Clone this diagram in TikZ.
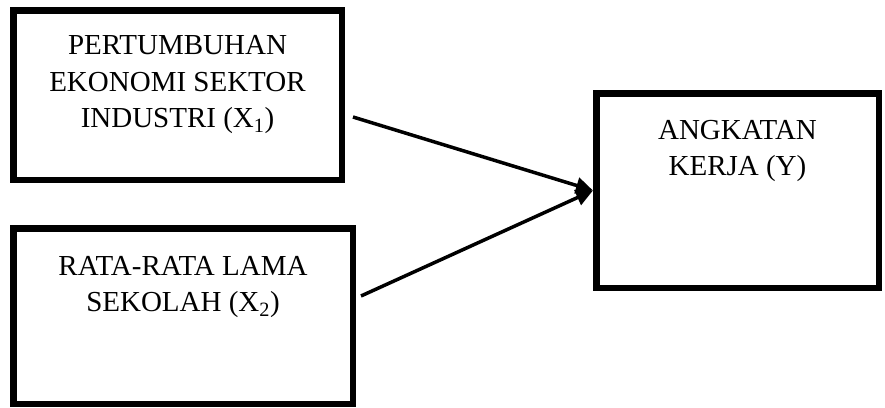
\documentclass[tikz,border=0pt]{standalone}
\usepackage{fontspec}
\setmainfont{Liberation Serif}
\usetikzlibrary{arrows.meta,calc}

\tikzset{
  box/.style={draw=black, line width=6.5pt, rectangle, inner sep=0pt, fill=white},
  lbl/.style={align=center, inner sep=0pt, anchor=north,
              font=\fontsize{29}{36.5}\selectfont},
  link/.style={line width=3.5pt, -{Triangle[length=17pt,width=16pt]}}
}

\begin{document}
\begin{tikzpicture}[x=1pt, y=-1pt]
  \useasboundingbox (0,0) rectangle (885,407);

  % boxes
  \node[box, minimum width=328.5pt, minimum height=169.5pt] (b1) at (177.5,95) {};
  \node[box, minimum width=339.5pt, minimum height=175.5pt] (b2) at (183,316) {};
  \node[box, minimum width=282.5pt, minimum height=194.5pt] (b3) at (737.5,190.5) {};

  % labels
  \node[lbl] (t1) at ($(b1.north)+(0,28.5)$)
    {PERTUMBUHAN\\EKONOMI SEKTOR\\INDUSTRI (X\textsubscript{1})};
  \node[lbl] (t2) at ($(b2.north)+(0,31)$)
    {RATA-RATA LAMA\\SEKOLAH (X\textsubscript{2})};
  \node[lbl] (t3) at ($(b3.north)+(0,30)$)
    {ANGKATAN\\KERJA (Y)};

  % arrow start points
  \coordinate (s1) at ($(b1.east)+(8,22)$);
  \coordinate (s2) at ($(b2.east)+(5,-20)$);

  \draw[link] (s1) -- (b3.west);
  \draw[link] (s2) -- (b3.west);
\end{tikzpicture}
\end{document}
